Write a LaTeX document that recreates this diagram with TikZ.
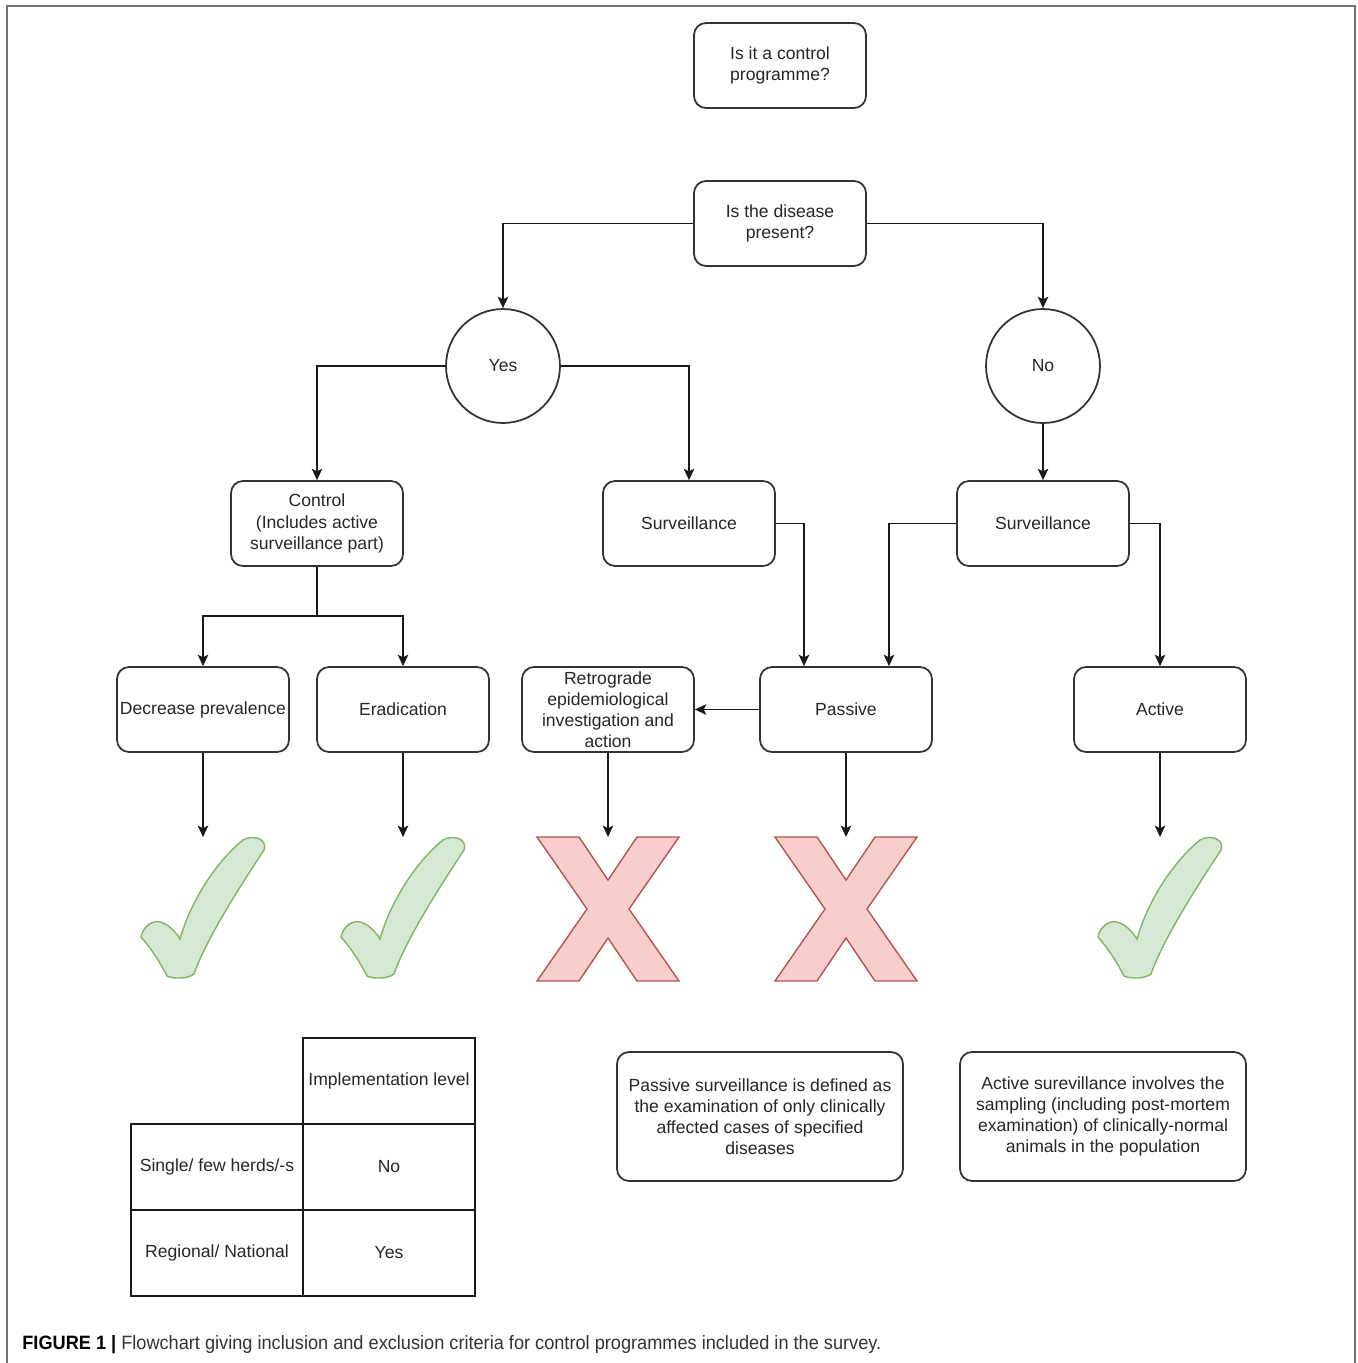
\documentclass[tikz,border=0pt]{standalone}
\usepackage{fontspec}
\setmainfont{Liberation Sans}
\newfontfamily\capfont[FakeStretch=0.94]{Liberation Sans}
\usepackage{tikz}
\usetikzlibrary{arrows.meta}

\tikzset{
  okmark/.pic={
    \draw[draw=okline, fill=okfill, line width=0.8pt]
      (-23,102) .. controls (-12,63) and (14,24) .. (40,3)
      .. controls (50,-3) and (65,2) .. (61,13)
      .. controls (40,45) and (4,100) .. (-9,137)
      .. controls (-15,142) and (-30,142) .. (-36,139)
      .. controls (-45,121) and (-55,108) .. (-62,100)
      .. controls (-60,89) and (-50,83) .. (-43,85)
      .. controls (-35,87) and (-28,94) .. (-23,102) -- cycle;
  },
  nomark/.pic={
    \draw[draw=noline, fill=nofill, line width=0.8pt]
      (-71,0) -- (-29,0) -- (0,43) -- (29,0) -- (71,0) -- (21,72)
      -- (71,144) -- (29,144) -- (0,101) -- (-29,144) -- (-71,144)
      -- (-21,72) -- cycle;
  }
}
\definecolor{okfill}{HTML}{D5E8D4}
\definecolor{okline}{HTML}{82B366}
\definecolor{nofill}{HTML}{F8CECC}
\definecolor{noline}{HTML}{B85450}

\begin{document}
\begin{tikzpicture}[x=0.02cm, y=-0.02cm,
    every node/.style={font=\fontsize{10}{12}\selectfont, text=black!85},
    box/.style={draw=black!80, line width=1pt, rounded corners=0.24cm, minimum width=3.44cm, minimum height=1.7cm, align=center, inner sep=1pt},
    defbox/.style={box, minimum width=5.72cm, minimum height=2.58cm},
    circ/.style={draw=black!80, line width=1pt, circle, minimum size=2.28cm},
    cell/.style={draw=black!90, line width=1pt, minimum width=3.44cm, minimum height=1.72cm, inner sep=0pt},
    arr/.style={draw=black!90, line width=1pt, -{Stealth[length=6.5pt, width=6pt, inset=1.5pt]}}]
    \useasboundingbox (0,0) rectangle (1357,1363);
    \draw[black!55, line width=1.2pt] (7,1363) -- (7,6) -- (1355,6) -- (1355,1363);

    % Questions
    \node[box] (prog) at (780,65.5) {Is it a control\\programme?};
    \node[box] (present) at (780,223.5) {Is the disease\\present?};
    \node[circ] (yes) at (503,366) {Yes};
    \node[circ] (no) at (1043,366) {No};

    % Programme types
    \node[box] (control) at (317,523.5) {Control\\(Includes active\\surveillance part)};
    \node[box] (survyes) at (689,523.5) {Surveillance};
    \node[box] (survno) at (1043,523.5) {Surveillance};
    \node[box] (decrease) at (203,709.5) {Decrease prevalence};
    \node[box] (eradic) at (403,709.5) {Eradication};
    \node[box] (retro) at (608,709.5) {Retrograde\\epidemiological\\investigation and\\action};
    \node[box] (passive) at (846,709.5) {Passive};
    \node[box] (active) at (1160,709.5) {Active};

    % Inclusion marks
    \coordinate (mark1) at (203,837);
    \coordinate (mark2) at (403,837);
    \coordinate (mark3) at (608,837);
    \coordinate (mark4) at (846,837);
    \coordinate (mark5) at (1160,837);
    \pic at (mark1) {okmark};
    \pic at (mark2) {okmark};
    \pic at (mark3) {nomark};
    \pic at (mark4) {nomark};
    \pic at (mark5) {okmark};

    % Table
    \node[cell] (head) at (389,1081) {Implementation level};
    \node[cell] (single) at (217,1167) {Single/ few herds/-s};
    \node[cell] (singleans) at (389,1167) {No};
    \node[cell] (region) at (217,1253) {Regional/ National};
    \node[cell] (regionans) at (389,1253) {Yes};

    % Definitions
    \node[defbox] (passdef) at (760,1116.5) {Passive surveillance is defined as\\the examination of only clinically\\affected cases of specified\\diseases};
    \node[defbox] (actdef) at (1103,1116.5) {Active surevillance involves the\\sampling (including post-mortem\\examination) of clinically-normal\\animals in the population};

    % Caption
    \node[anchor=base west, inner sep=0pt, font=\capfont\fontsize{11}{13}\selectfont, text=black!80] (caption) at (22,1349)
      {\textcolor{black}{\textbf{FIGURE 1 |}} Flowchart giving inclusion and exclusion criteria for control programmes included in the survey.};

    % Connections
    \draw[arr] (present.west) -| (yes.north);
    \draw[arr] (present.east) -| (no.north);
    \draw[arr] (yes.west) -| (control.north);
    \draw[arr] (yes.east) -| (survyes.north);
    \draw[arr] (no.south) -- (survno.north);
    \coordinate (split) at (317,616);
    \draw[draw=black!90, line width=1pt] (control.south) -- (split);
    \draw[arr] (split) -| (decrease.north);
    \draw[arr] (split) -| (eradic.north);
    \draw[arr] (survyes.east) -| ([xshift=-0.84cm]passive.north);
    \draw[arr] (survno.west) -| ([xshift=0.86cm]passive.north);
    \draw[arr] (survno.east) -| (active.north);
    \draw[arr] (passive.west) -- (retro.east);
    \draw[arr] (decrease.south) -- (mark1);
    \draw[arr] (eradic.south) -- (mark2);
    \draw[arr] (retro.south) -- (mark3);
    \draw[arr] (passive.south) -- (mark4);
    \draw[arr] (active.south) -- (mark5);
\end{tikzpicture}
\end{document}
